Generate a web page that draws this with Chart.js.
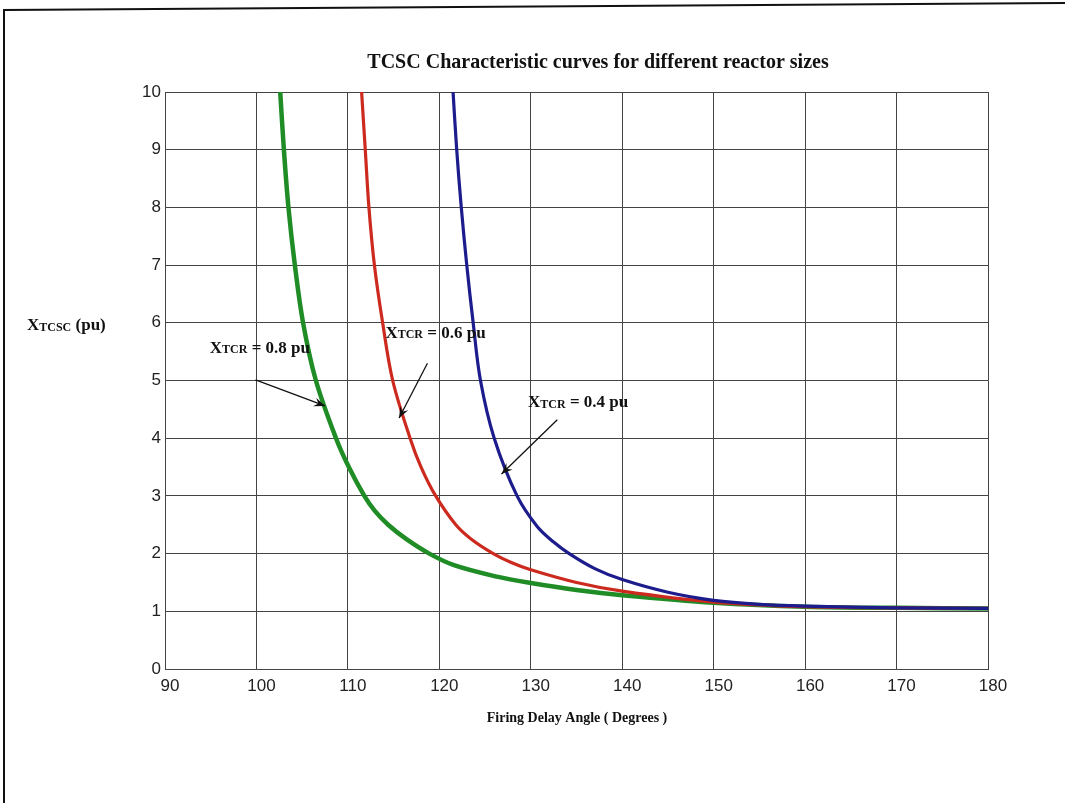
<!DOCTYPE html>
<html>
<head>
<meta charset="utf-8">
<script src="https://cdn.jsdelivr.net/npm/chart.js@4.4.0/dist/chart.umd.min.js"></script>
<style>
  html, body { margin: 0; background: #fff; }
</style>
</head>
<body>
<canvas id="tcsc-chart" width="1065" height="803"></canvas>
<script>
// ==== Data ====
const angleRange = [90, 180];
const xtcscRange = [0, 10];

const green08Angle = [102.6, 103.0, 103.5, 104.2, 105.1, 106.5, 108.7, 110.1, 111.8, 112.9, 114.4, 116.4, 118.9, 121.6, 126.3, 130, 135, 140, 150, 160, 170, 180];
const green08Value = [10, 9, 8, 7, 6, 5, 4, 3.5, 3, 2.75, 2.5, 2.25, 2, 1.8, 1.6, 1.49, 1.37, 1.28, 1.15, 1.08, 1.06, 1.05];

const red06Angle = [111.5, 111.9, 112.3, 112.9, 113.8, 114.9, 116.8, 118.0, 119.6, 121.8, 123.5, 125.9, 127.8, 130, 135, 140, 150, 160, 170, 180];
const red06Value = [10, 9, 8, 7, 6, 5, 4, 3.5, 3, 2.5, 2.25, 2, 1.85, 1.72, 1.5, 1.35, 1.16, 1.08, 1.06, 1.05];

const blue04Angle = [121.5, 121.9, 122.4, 123.0, 123.7, 124.5, 126.0, 128.5, 130.7, 132.5, 134.2, 137, 140, 145, 150, 155, 160, 170, 180];
const blue04Value = [10, 9, 8, 7, 6, 5, 4, 3, 2.47, 2.2, 2, 1.74, 1.55, 1.33, 1.19, 1.12, 1.09, 1.06, 1.05];

// annotation labels: [text value, label x, label y, arrow from x, from y, arrow tip x, tip y] in data units
const curveLabels = [
  ['0.8', 94.9, 5.56, 99.9, 5.01, 107.5, 4.56],
  ['0.6', 114.1, 5.82, 118.7, 5.30, 115.6, 4.35],
  ['0.4', 129.7, 4.61, 132.9, 4.32, 126.8, 3.38]
];

function toPoints(xs, ys) {
  return xs.map((x, i) => ({ x, y: ys[i] }));
}

// ==== Text helpers ====
const SERIF = '"Liberation Serif", "Times New Roman", serif';

function drawSubText(ctx, x, y, main, sub, rest, size, subRatio) {
  ctx.textBaseline = 'middle';
  ctx.textAlign = 'left';
  ctx.font = `bold ${size}px ${SERIF}`;
  ctx.fillText(main, x, y);
  x += ctx.measureText(main).width;
  ctx.font = `bold ${Math.round(size * subRatio)}px ${SERIF}`;
  ctx.fillText(sub, x, y + size * 0.1);
  x += ctx.measureText(sub).width;
  ctx.font = `bold ${size}px ${SERIF}`;
  ctx.fillText(rest, x, y);
  return x + ctx.measureText(rest).width;
}

function drawArrow(ctx, x1, y1, x2, y2) {
  const ang = Math.atan2(y2 - y1, x2 - x1);
  ctx.beginPath();
  ctx.moveTo(x1, y1);
  ctx.lineTo(x2, y2);
  ctx.stroke();
  ctx.beginPath();
  ctx.moveTo(x2, y2);
  ctx.lineTo(x2 - 12 * Math.cos(ang - 0.38), y2 - 12 * Math.sin(ang - 0.38));
  ctx.lineTo(x2 - 7 * Math.cos(ang), y2 - 7 * Math.sin(ang));
  ctx.lineTo(x2 - 12 * Math.cos(ang + 0.38), y2 - 12 * Math.sin(ang + 0.38));
  ctx.closePath();
  ctx.fill();
}

// ==== Decorations plugin ====
const decorations = {
  id: 'decorations',
  afterDatasetsDraw(chart) {
    const ctx = chart.ctx;
    const xs = chart.scales.x, ys = chart.scales.y;
    ctx.save();
    ctx.fillStyle = '#111';
    ctx.strokeStyle = '#111';

    // page frame (scanned sheet edge)
    ctx.lineWidth = 2;
    ctx.beginPath();
    ctx.moveTo(4, 803);
    ctx.lineTo(4, 10);
    ctx.lineTo(1065, 3);
    ctx.stroke();

    // title
    ctx.font = `bold 20px ${SERIF}`;
    ctx.textAlign = 'center';
    ctx.textBaseline = 'middle';
    ctx.fillText('TCSC Characteristic curves for different reactor sizes', 598, 63);

    // x axis title
    ctx.font = `bold 14px ${SERIF}`;
    ctx.fillText('Firing Delay Angle ( Degrees )', 577, 718);

    // y axis title
    drawSubText(ctx, 27, 326, 'X', 'TCSC', ' (pu)', 17, 0.72);

    // curve labels and arrows
    ctx.lineWidth = 1.3;
    curveLabels.forEach(([val, lx, ly, ax, ay, tx, ty]) => {
      drawSubText(ctx, xs.getPixelForValue(lx), ys.getPixelForValue(ly), 'X', 'TCR', ' = ' + val + ' pu', 17, 0.72);
      drawArrow(ctx,
        xs.getPixelForValue(ax), ys.getPixelForValue(ay),
        xs.getPixelForValue(tx), ys.getPixelForValue(ty));
    });
    ctx.restore();
  }
};

// ==== Chart ====
const gridColor = '#444';

const ctx = document.getElementById('tcsc-chart').getContext('2d');
new Chart(ctx, {
  type: 'line',
  data: {
    datasets: [
      { label: 'XTCR = 0.4 pu', data: toPoints(blue04Angle, blue04Value), borderColor: '#1c1c8c', borderWidth: 3.2 },
      { label: 'XTCR = 0.6 pu', data: toPoints(red06Angle, red06Value), borderColor: '#cc2a1e', borderWidth: 3.2 },
      { label: 'XTCR = 0.8 pu', data: toPoints(green08Angle, green08Value), borderColor: '#1f8c25', borderWidth: 4.5 }
    ]
  },
  options: {
    responsive: false,
    animation: false,
    devicePixelRatio: 1,
    parsing: false,
    elements: {
      point: { radius: 0 },
      line: { tension: 0.35, fill: false }
    },
    layout: { padding: { left: 125, right: 77, top: 92, bottom: 94 } },
    plugins: {
      legend: { display: false },
      title: { display: false },
      tooltip: { enabled: false }
    },
    scales: {
      x: {
        type: 'linear',
        min: angleRange[0],
        max: angleRange[1],
        afterFit: scale => { scale.height = 40; },
        grid: { color: gridColor, lineWidth: 1, drawTicks: false },
        border: { color: gridColor, width: 1 },
        ticks: {
          stepSize: 10,
          padding: 7,
          labelOffset: 5,
          color: '#222',
          font: { family: '"Liberation Sans", Arial, sans-serif', size: 17 },
          maxRotation: 0
        }
      },
      y: {
        type: 'linear',
        min: xtcscRange[0],
        max: xtcscRange[1],
        afterFit: scale => { scale.width = 40; },
        grid: { color: gridColor, lineWidth: 1, drawTicks: false },
        border: { color: gridColor, width: 1 },
        ticks: {
          stepSize: 1,
          padding: 4,
          color: '#222',
          font: { family: '"Liberation Sans", Arial, sans-serif', size: 17 }
        }
      }
    }
  },
  plugins: [decorations]
});
</script>
</body>
</html>
